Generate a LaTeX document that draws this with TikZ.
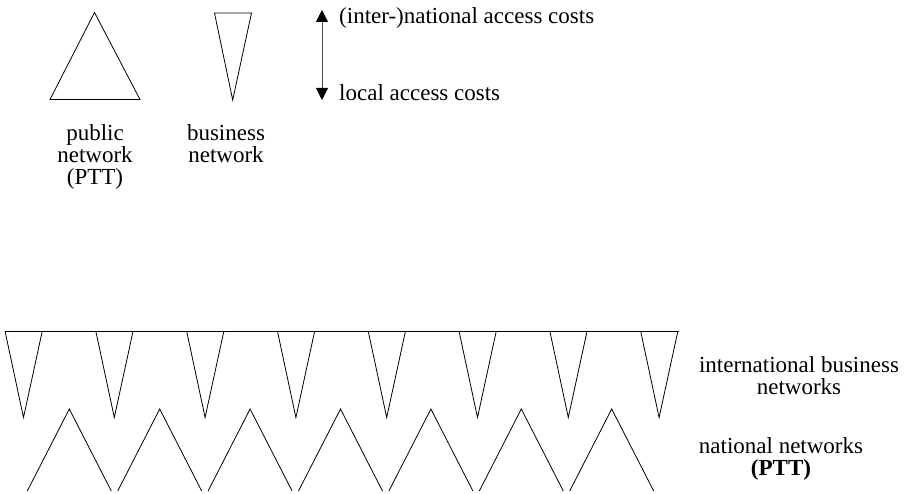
\documentclass[tikz,border=0pt]{standalone}
\usepackage{fontspec}
\setmainfont{Liberation Serif}
\usetikzlibrary{arrows.meta}
\begin{document}
\begin{tikzpicture}[x=1pt,y=-1pt,
  outline/.style={draw=black,line width=0.8pt,line join=miter},
  label/.style={align=center,inner sep=0pt,font=\fontsize{23}{22}\selectfont},
  costarrow/.style={draw=black!70,line width=0.8pt,
    {Triangle[width=12pt,length=12pt,fill=black,color=black]}-{Triangle[width=12pt,length=12pt,fill=black,color=black]}}]
\useasboundingbox (0,0) rectangle (906,494);

% legend: public network (PTT); a multi-line node's base is its last line
\draw[outline] (50,99.5) -- (94.5,12.5) -- (140,99.5) -- cycle;
\node[label,anchor=base] (pub) at (95,185) {public\\network\\(PTT)};

% legend: business network
\draw[outline] (214.5,13) -- (251.5,13) -- (232.7,100) -- cycle;
\node[label,anchor=base] (bus) at (226,163) {business\\network};

% cost scale
\coordinate (hi) at (322,10);
\coordinate (lo) at (322,100);
\draw[costarrow] (lo) -- (hi);
\node[label,anchor=base west] (intl) at (339,24) {(inter-)national access costs};
\node[label,anchor=base west] (loc) at (339,101) {local access costs};

% international business networks hanging from a common backbone
\draw[outline] (5,331) -- (678.5,331);
\foreach \i in {0,...,7}{
  \draw[outline] (5+90.8*\i,331) -- (23.5+90.8*\i,417.5) -- (42.3+90.8*\i,331);
}

% national networks (PTT)
\foreach \i in {0,...,6}{
  \draw[outline] (27.3+90.4*\i,491) -- (69.3+90.4*\i,409) -- (111.3+90.4*\i,491);
}

\node[label,anchor=base] (ibn) at (799,395) {international business\\networks};
\node[label,anchor=base] (nn) at (781,476) {national networks\\\textbf{(PTT)}};
\end{tikzpicture}
\end{document}
